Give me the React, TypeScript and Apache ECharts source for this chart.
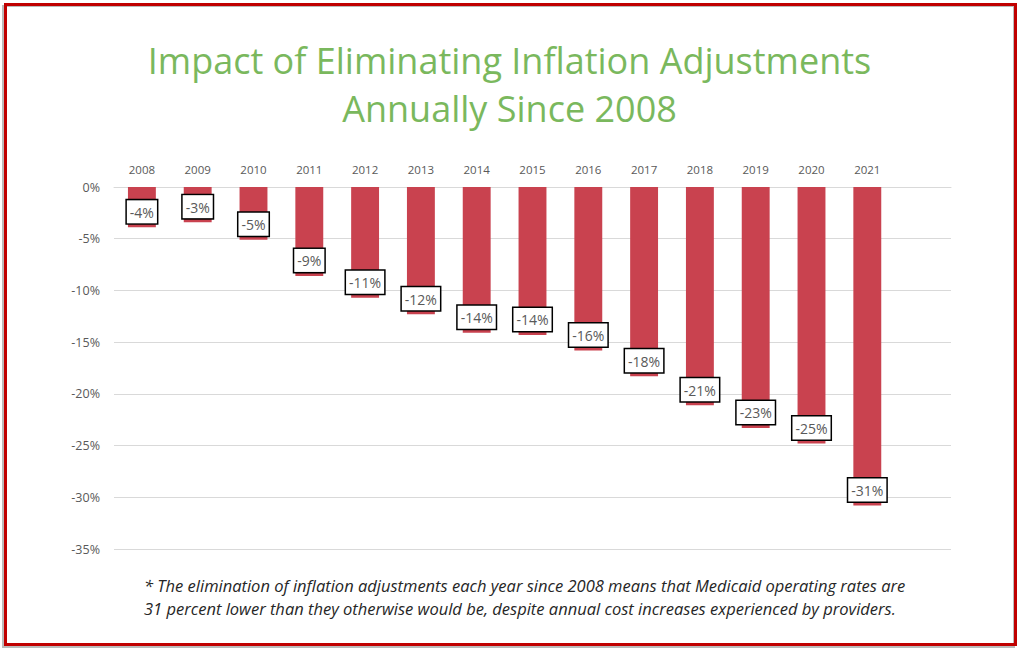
import React, { useEffect, useRef } from "react";
import * as echarts from "echarts";

const years = ["2008","2009","2010","2011","2012","2013","2014","2015","2016","2017","2018","2019","2020","2021",""];
const values = [-3.9,-3.4,-5.1,-8.6,-10.7,-12.3,-14.1,-14.3,-15.8,-18.3,-21.1,-23.3,-24.8,-30.8,null];
const yTicks = { min: -35, max: 0, interval: 5 };
const titleLines = ["Impact of Eliminating Inflation Adjustments", "Annually Since 2008"];
const footLines = [
  "* The elimination of inflation adjustments each year since 2008 means that Medicaid operating rates are",
  "31 percent lower than they otherwise would be, despite annual cost increases experienced by providers.",
];

export default function App() {
  const ref = useRef<HTMLDivElement>(null);
  useEffect(() => {
    const chart = echarts.init(ref.current!, undefined, { renderer: "svg" });
    chart.setOption({
      animation: false,
      backgroundColor: "#ffffff",
      title: {
        text: titleLines.join("\n"),
        left: "center",
        top: 31,
        textStyle: { color: "#7AB85D", fontSize: 36, fontWeight: "normal", fontFamily: "Open Sans", lineHeight: 48 },
      },
      grid: { left: 114, right: 68, top: 187, bottom: 100 },
      xAxis: {
        type: "category",
        position: "top",
        data: years,
        axisLine: { show: true, lineStyle: { color: "#d9d9d9", width: 1 } },
        axisTick: { show: false },
        axisLabel: { color: "#595959", fontSize: 11.5, margin: 12, fontFamily: "Open Sans", interval: 0 },
      },
      yAxis: {
        type: "value",
        min: yTicks.min,
        max: yTicks.max,
        interval: yTicks.interval,
        axisLine: { show: false },
        axisTick: { show: false },
        splitLine: { lineStyle: { color: "#d9d9d9", width: 1 } },
        axisLabel: { color: "#595959", fontSize: 12.5, margin: 14, fontFamily: "Open Sans", formatter: (v: number) => v + "%" },
      },
      series: [
        {
          type: "bar",
          data: values,
          barWidth: "50%",
          itemStyle: { color: "#C9424F" },
          label: {
            show: true,
            position: "insideBottom",
            distance: 4,
            formatter: (p: any) => Math.round(p.value) + "%",
            color: "#595959",
            fontSize: 14,
            fontFamily: "Open Sans",
            backgroundColor: "#ffffff",
            borderColor: "#000000",
            borderWidth: 1.5,
            padding: [5, 3, 4, 3],
          },
        },
      ],
      graphic: [
        { type: "rect", shape: { x: 3, y: 6, width: 1011, height: 641 }, style: { fill: "none", stroke: "#bbbbbb", lineWidth: 2 }, silent: true },
        { type: "rect", shape: { x: 5.5, y: 4.5, width: 1010, height: 640 }, style: { fill: "none", stroke: "#C00000", lineWidth: 3 }, silent: true },
        {
          type: "text",
          x: 144,
          y: 574,
          style: {
            text: footLines.join("\n"),
            font: "italic 16.5px 'Open Sans'",
            fill: "#262626",
            lineHeight: 23,
            align: "left",
            verticalAlign: "top",
          },
        },
      ],
    });
    return () => chart.dispose();
  }, []);
  return <div ref={ref} style={{ position: "fixed", left: 0, top: 0, width: 1019, height: 649 }} />;
}
